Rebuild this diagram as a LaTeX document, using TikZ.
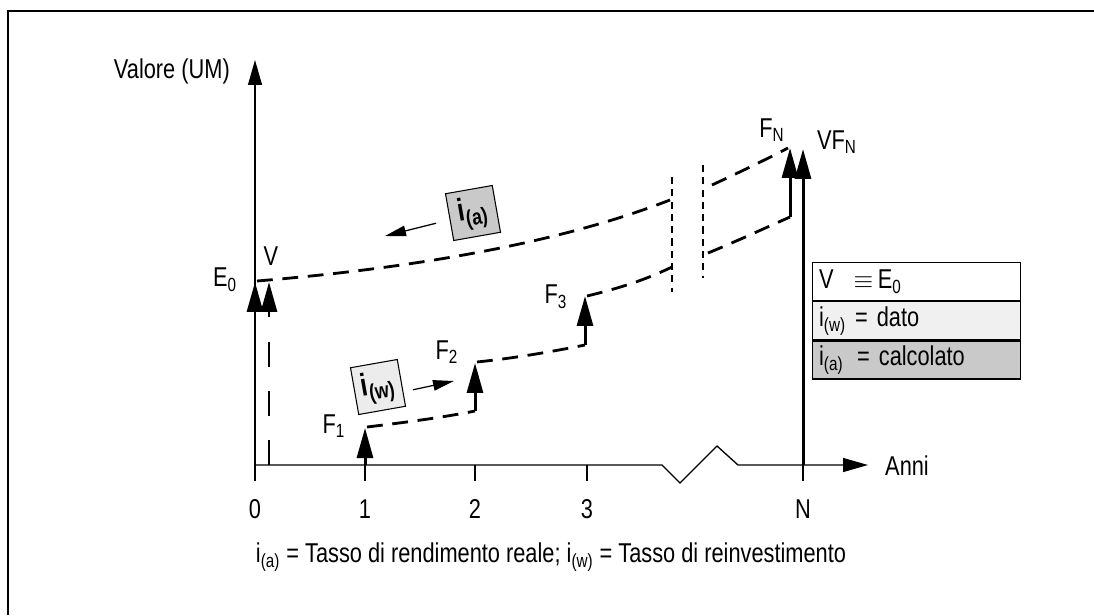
\documentclass[tikz,border=0pt]{standalone}
\usepackage{fontspec}
\setmainfont{Liberation Sans}[FakeStretch=0.8]
\usetikzlibrary{arrows.meta,positioning,calc}
\newcommand{\lowidx}[1]{\textsubscript{#1}}

\begin{document}
\begin{tikzpicture}[x=0.02cm, y=-0.02cm, font=\fontsize{15.5}{17}\selectfont,
  axis/.style={line width=0.75pt},
  flow/.style={line width=1.7pt, -{Triangle[length=0.6cm,width=0.32cm]}},
  reinv/.style={line width=1.6pt, dash pattern=on 9pt off 5.5pt},
  cut/.style={line width=1.3pt, dash pattern=on 4pt off 3pt},
  ratebox/.style={draw, line width=0.6pt, minimum size=0.95cm, inner sep=0pt,
                  rotate=10, font=\fontsize{18}{19}\selectfont\bfseries},
  ratearr/.style={line width=0.7pt, -{Triangle[length=0.42cm,width=0.21cm]}},
  cell/.style={draw, line width=0.7pt, anchor=north west, minimum height=0.76cm,
               text width=3.9cm, inner xsep=0.13cm, inner ysep=0pt, align=left}]
  \useasboundingbox (0,0) rectangle (1094,615);
  % frame
  \draw[line width=1pt] (8,615) -- (8,11) -- (1094,11);

  % axes, with the break on the time axis
  \coordinate (O) at (255,465);
  \coordinate (ytip) at (255,60);
  \coordinate (xtip) at (868,465);
  \draw[axis, -{Triangle[length=0.5cm,width=0.28cm]}] (O) -- (ytip);
  \draw[axis, -{Triangle[length=0.5cm,width=0.28cm]}]
        (O) -- (662,465) -- (680,483) -- (717,446) -- (738,465) -- (xtip);
  \node[anchor=east] (yl) at (236,71) {Valore (UM)};
  \node[anchor=west] (xl) at (879,466) {Anni};
  \foreach \x/\lab in {255/0,365/1,475/2,587/3,803/N} {
    \draw[axis] (\x,465) -- (\x,481);
    \node (t\lab) at (\x,509) {\lab};
  }

  % cash flows
  \coordinate (e0top) at (255,282);
  \coordinate (vbot) at (269,465);
  \coordinate (vtop) at (269,282);
  \coordinate (f1bot) at (365,465);
  \coordinate (f1top) at (365,428);
  \coordinate (f2bot) at (475,411);
  \coordinate (f2top) at (475,363);
  \coordinate (f3bot) at (585,345);
  \coordinate (f3top) at (585,296);
  \coordinate (fnbot) at (790,217);
  \coordinate (fntop) at (790,148);
  \coordinate (vfbot) at (803,465);
  \coordinate (vftop) at (803,149);
  \draw[flow] (O) -- (e0top);
  \draw[flow, dash pattern=on 14pt off 14pt] (vbot) -- (vtop);
  \draw[flow] (f1bot) -- (f1top);
  \draw[flow] (f2bot) -- (f2top);
  \draw[flow] (f3bot) -- (f3top);
  \draw[flow] (fnbot) -- (fntop);
  \draw[flow] (vfbot) -- (vftop);

  \node (e0l) at (225,280) {E\lowidx{0}};
  \node (vl) at (271,256) {V};
  \node (f1l) at (334,426) {F\lowidx{1}};
  \node (f2l) at (447,352) {F\lowidx{2}};
  \node (f3l) at (556,297) {F\lowidx{3}};
  \node (fnl) at (772,130) {F\lowidx{N}};
  \node (vfl) at (837,142) {VF\lowidx{N}};

  % discounting line (upper) and reinvestment line (lower)
  \draw[reinv] (257,281) .. controls (450,265) and (580,235) .. (670,200);
  \draw[reinv] (712,185) .. controls (740,172) and (765,160) .. (788,148);
  \draw[reinv] (367,427) .. controls (400,423) and (440,418) .. (f2bot);
  \draw[reinv] (477,362) .. controls (515,358) and (550,352) .. (f3bot);
  \draw[reinv] (587,296) .. controls (620,288) and (645,280) .. (672,267);
  \draw[reinv] (708,253) .. controls (735,242) and (765,228) .. (fnbot);
  % break marks
  \draw[cut] (672,177) -- (672,292);
  \draw[cut] (703,165) -- (703,278);

  % rate labels
  \node[ratebox, fill=gray!42] (ia) at (473,213) {i\lowidx{(a)}};
  \coordinate (iaend) at (385,236);
  \draw[ratearr] ($(ia.west)+(-13,6)$) -- (iaend);
  \node[ratebox, fill=gray!15] (iw) at (378,387) {i\lowidx{(w)}};
  \coordinate (iwend) at (454,381);
  \draw[ratearr] ($(iw.east)+(11,7)$) -- (iwend);

  % legend
  \node[cell] (r1) at (812,262) {V\hspace{0.4cm}$\equiv$\,E\lowidx{0}};
  \node[cell, fill=gray!12] (r2) at (r1.south west) {i\lowidx{(w)} = dato};
  \node[cell, fill=gray!42] (r3) at (r2.south west) {i\lowidx{(a)}\, = calcolato};

  % caption
  \node (cap) at (551,557) {i\lowidx{(a)} = Tasso di rendimento reale; i\lowidx{(w)} = Tasso di reinvestimento};
\end{tikzpicture}
\end{document}
